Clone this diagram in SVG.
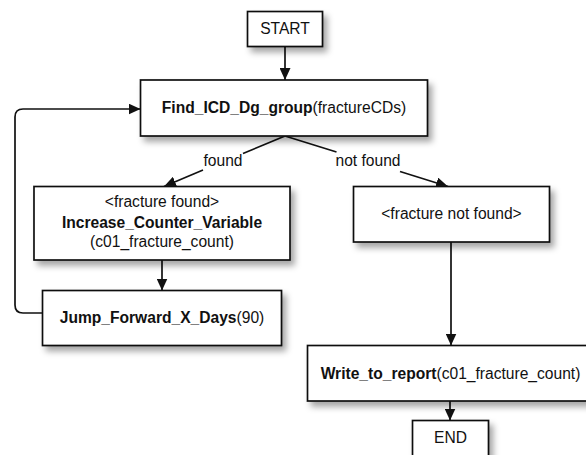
<svg xmlns="http://www.w3.org/2000/svg" width="586" height="455" viewBox="0 0 586 455">
<style>
  .box { fill: #ffffff; stroke: #111111; stroke-width: 1.7; }
  .shadowed { filter: url(#shadow); }
  .t { font-family: "Liberation Sans", Arial, sans-serif; font-size: 15.6px; fill: #111111; text-anchor: middle; }
  .b { font-weight: bold; }
  .conn { fill: none; stroke: #111111; stroke-width: 1.7; }
  .arr { marker-end: url(#arrow); }
</style>
<defs>
  <marker id="arrow" markerUnits="userSpaceOnUse" markerWidth="13" markerHeight="11" refX="12" refY="5.5" orient="auto">
    <path d="M0,0 L12,5.5 L0,11 Z" fill="#111111"/>
  </marker>
  <filter id="shadow" x="-10%" y="-20%" width="130%" height="160%">
    <feGaussianBlur in="SourceAlpha" stdDeviation="3"/>
    <feOffset dx="4" dy="5" result="b"/>
    <feFlood flood-color="#000000" flood-opacity="0.35"/>
    <feComposite in2="b" operator="in"/>
    <feMerge><feMergeNode/><feMergeNode in="SourceGraphic"/></feMerge>
  </filter>
</defs>
<rect width="586" height="455" fill="#ffffff"/>

<g id="connectors">
  <path class="conn arr" d="M285,46 V80"/>
  <path class="conn" d="M285,136 L243,153.5"/>
  <path class="conn arr" d="M203,170 L164,186.5"/>
  <path class="conn" d="M285,136 L336.5,152"/>
  <path class="conn arr" d="M400,171.5 L448,186.5"/>
  <path class="conn arr" d="M162,260 V290.5"/>
  <path class="conn arr" d="M42.5,313 H23 Q15,313 15,305 V117 Q15,109 23,109 H140.5"/>
  <path class="conn arr" d="M451,242 V345.5"/>
  <path class="conn arr" d="M450,401 V420.5"/>
  <text class="t" x="223" y="166">found</text>
  <text class="t" x="368" y="166">not found</text>
</g>

<g id="start">
  <rect class="box shadowed" x="247.5" y="11.5" width="75" height="35"/>
  <text class="t" x="285" y="34">START</text>
</g>

<g id="find">
  <rect class="box shadowed" x="140.5" y="80" width="287" height="56"/>
  <text class="t" x="284" y="113"><tspan class="b">Find_ICD_Dg_group</tspan>(fractureCDs)</text>
</g>

<g id="increase">
  <rect class="box shadowed" x="34" y="186.5" width="256" height="73.5"/>
  <text class="t" x="162" y="207">&lt;fracture found&gt;</text>
  <text class="t b" x="162" y="228">Increase_Counter_Variable</text>
  <text class="t" x="162" y="247">(c01_fracture_count)</text>
</g>

<g id="notfound">
  <rect class="box shadowed" x="353.5" y="186.5" width="196" height="55.5"/>
  <text class="t" x="451.5" y="218.5">&lt;fracture not found&gt;</text>
</g>

<g id="jump">
  <rect class="box shadowed" x="42.5" y="290.5" width="239" height="55"/>
  <text class="t" x="162" y="323"><tspan class="b">Jump_Forward_X_Days</tspan>(90)</text>
</g>

<g id="write">
  <rect class="box shadowed" x="307.5" y="345.5" width="290" height="55.5"/>
  <text class="t" x="450.5" y="378.5"><tspan class="b">Write_to_report</tspan>(c01_fracture_count)</text>
</g>

<g id="end">
  <rect class="box shadowed" x="412.5" y="420.5" width="76" height="50"/>
  <text class="t" x="450.5" y="443">END</text>
</g>
</svg>
